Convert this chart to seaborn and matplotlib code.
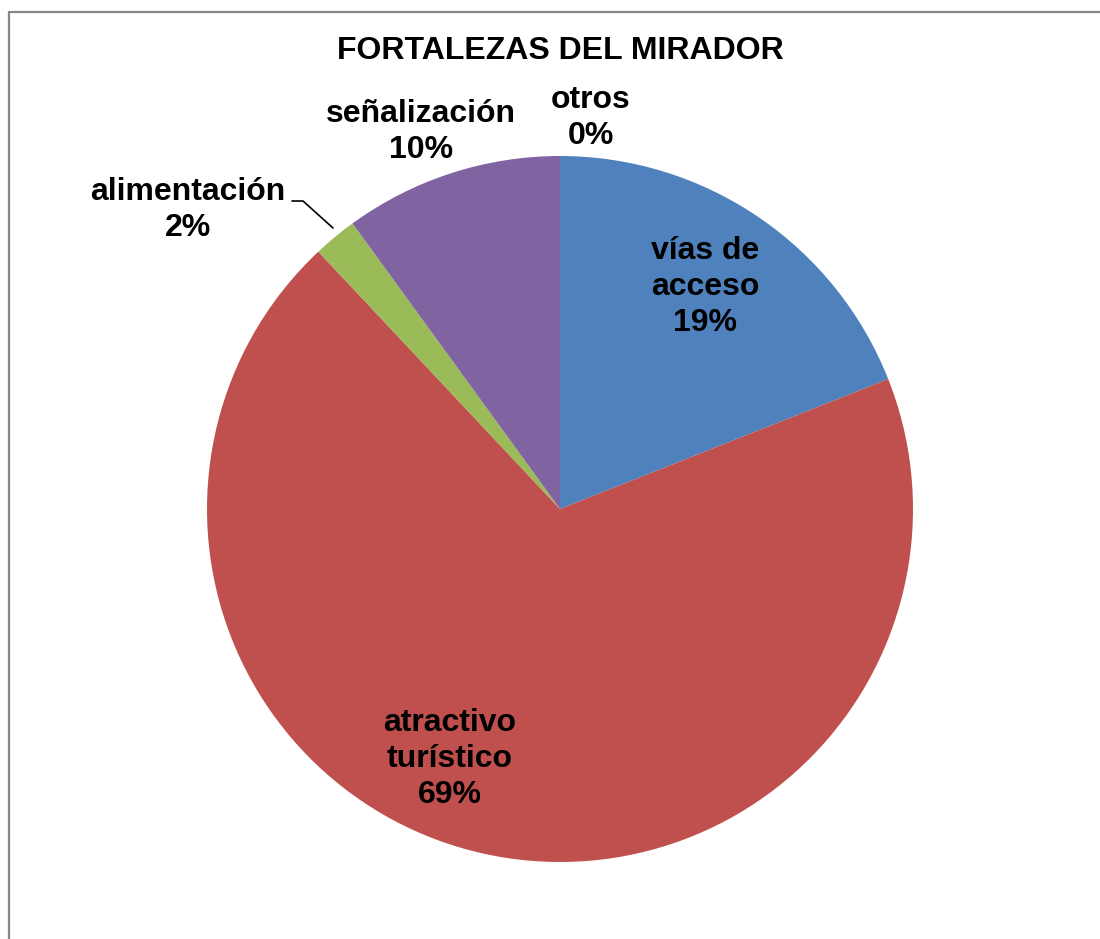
import matplotlib
matplotlib.use("Agg")
import matplotlib.pyplot as plt
import seaborn as sns
from matplotlib.lines import Line2D

categories = ["vías de acceso", "atractivo turístico", "alimentación", "señalización", "otros"]
label_text = ["vías de\nacceso", "atractivo\nturístico", "alimentación", "señalización", "otros"]
values = [19, 69, 2, 10, 0]
percents = ["19%", "69%", "2%", "10%", "0%"]
colors = ["#4F81BD", "#C0504D", "#9BBB59", "#8064A2", "#4BACC6"]
title = "FORTALEZAS DEL MIRADOR"

sns.set_theme(style="white")
plt.rcParams['font.family'] = ['Liberation Sans', 'DejaVu Sans']

W, H = 1100, 939
fig = plt.figure(figsize=(W / 100, H / 100), dpi=100)
ax = fig.add_axes([0, 0, 1, 1])

pal = sns.color_palette(colors)
cx, cy, r = 560, H - 509, 353
ax.pie(values, colors=pal, startangle=90, counterclock=False,
       radius=r, center=(cx, cy), frame=False,
       wedgeprops=dict(linewidth=0))
ax.set_xlim(0, W)
ax.set_ylim(0, H)
ax.set_aspect("equal")
ax.axis("off")

# label positions (pixel, top-origin)
pos = [(705, 287), (450, 759), (188, 210), (421, 132), (591, 118)]
fs = 23
for lab, pct, (x, y) in zip(label_text, percents, pos):
    ax.text(x, H - y, f"{lab}\n{pct}", ha="center", va="center",
            fontsize=fs, fontweight="bold", color="black", linespacing=1.27)

# leader line for alimentación
ax.plot([292, 303, 333], [H - 201, H - 201, H - 228], color="black", lw=1.2)

ax.text(560, H - 51, title, ha="center", va="center", fontsize=fs,
        fontweight="bold", color="black")

# chart border (top and left visible)
fig.add_artist(Line2D([8.5 / W, 8.5 / W], [0, 1 - 11.5 / H], transform=fig.transFigure,
                      color="#878787", lw=1.6))
fig.add_artist(Line2D([8.5 / W, 1], [1 - 11.5 / H, 1 - 11.5 / H], transform=fig.transFigure,
                      color="#878787", lw=1.6))

fig.savefig("out.png", dpi=100, facecolor="white")
